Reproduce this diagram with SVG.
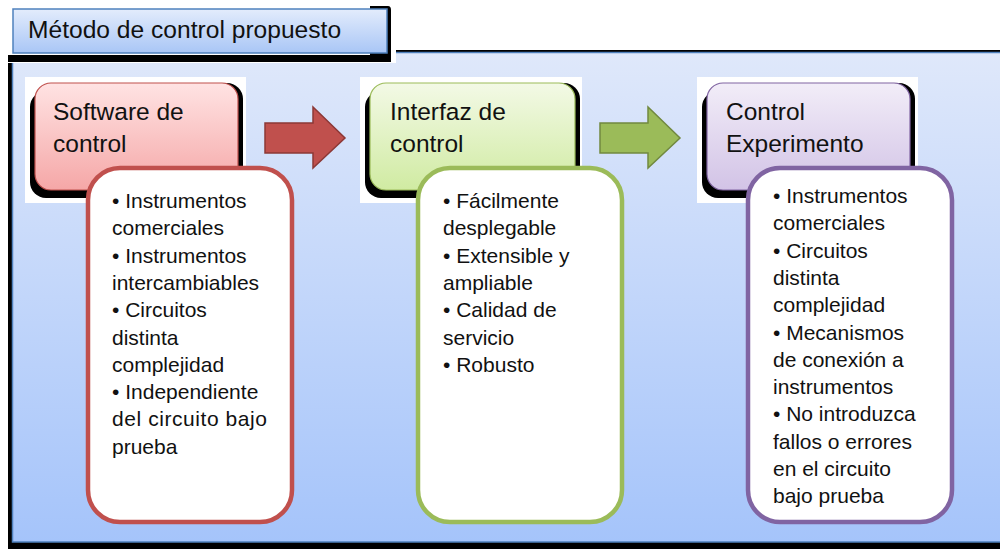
<svg xmlns="http://www.w3.org/2000/svg" width="1000" height="549" viewBox="0 0 1000 549">
<defs>
<linearGradient id="gPanel" x1="0" y1="0" x2="0" y2="1"><stop offset="0" stop-color="#dfe8fa"/><stop offset="1" stop-color="#a5c4fa"/></linearGradient>
<linearGradient id="gTitle" x1="0" y1="0" x2="0" y2="1"><stop offset="0" stop-color="#e3ecfc"/><stop offset="1" stop-color="#a9c6f6"/></linearGradient>
<linearGradient id="gRed" x1="0" y1="0" x2="0" y2="1"><stop offset="0" stop-color="#ffe3e3"/><stop offset="1" stop-color="#f5a7a7"/></linearGradient>
<linearGradient id="gGreen" x1="0" y1="0" x2="0" y2="1"><stop offset="0" stop-color="#f3f9e6"/><stop offset="1" stop-color="#d0eba2"/></linearGradient>
<linearGradient id="gPurple" x1="0" y1="0" x2="0" y2="1"><stop offset="0" stop-color="#f2edf8"/><stop offset="1" stop-color="#d2c3e6"/></linearGradient>
<style>
.hd{font-family:"Liberation Sans",Arial,sans-serif;font-size:24.5px;fill:#111}
.bl{font-family:"Liberation Sans",Arial,sans-serif;font-size:21px;fill:#111}
.ttl{font-family:"Liberation Sans",Arial,sans-serif;font-size:24.6px;fill:#111}
.sh{fill:#000}
.bd{fill:#fff}
.cb{fill:#fff;stroke-width:4.5}
</style>
</defs>
<rect x="0" y="0" width="1000" height="549" fill="#fff"/>
<g id="panel">
<rect x="8" y="50" width="992" height="499" fill="#000"/>
<rect x="12.5" y="52.5" width="990" height="489.5" fill="url(#gPanel)" stroke="#4f81bd" stroke-width="1.5"/>
</g>
<g id="title">
<rect x="0" y="0" width="396" height="63" fill="#fff"/>
<path d="M370,6 H388 Q391,6 391,10 V62 H8 V55 H370 Z" fill="#000"/>
<rect x="13" y="9" width="374" height="44" fill="url(#gTitle)" stroke="#4f81bd" stroke-width="1.5"/>
<text class="ttl" x="28" y="38">Método de control propuesto</text>
</g>
<g id="node-software">
<rect class="bd" x="25" y="77" width="221" height="126"/>
<rect class="sh" x="40" y="83" width="203" height="107" rx="16"/>
<rect class="sh" x="30" y="91" width="203" height="107" rx="16"/>
<rect x="35" y="83" width="203" height="107" rx="16" fill="url(#gRed)" stroke="#c0504d" stroke-width="1.2"/>
<text class="hd" x="53" y="120">Software de<tspan x="53" dy="32">control</tspan></text>
</g>
<g id="node-interfaz">
<rect class="bd" x="360" y="77" width="222" height="126"/>
<rect class="sh" x="375" y="83" width="205" height="107" rx="16"/>
<rect class="sh" x="365" y="91" width="205" height="107" rx="16"/>
<rect x="370" y="83" width="205" height="107" rx="16" fill="url(#gGreen)" stroke="#9bbb59" stroke-width="1.2"/>
<text class="hd" x="390" y="120">Interfaz de<tspan x="390" dy="32">control</tspan></text>
</g>
<g id="node-control">
<rect class="bd" x="697" y="77" width="221" height="126"/>
<rect class="sh" x="712" y="83" width="203" height="107" rx="16"/>
<rect class="sh" x="702" y="91" width="203" height="107" rx="16"/>
<rect x="707" y="83" width="203" height="107" rx="16" fill="url(#gPurple)" stroke="#8064a2" stroke-width="1.2"/>
<text class="hd" x="726" y="120">Control<tspan x="726" dy="32">Experimento</tspan></text>
</g>
<g id="connectors">
<polygon points="265,123 313,123 313,107 345,138 313,168 313,153 265,153" fill="#c0504d" stroke="#8c3836" stroke-width="1.5"/>
<polygon points="600,123 648,123 648,107 680,138 648,168 648,153 600,153" fill="#9bbb59" stroke="#71893f" stroke-width="1.5"/>
</g>
<g id="list-software">
<rect class="cb" x="88" y="168" width="204" height="354" rx="32" stroke="#c0504d"/>
<text class="bl" x="112" y="208">• Instrumentos<tspan x="112" dy="27.3">comerciales</tspan><tspan x="112" dy="27.3">• Instrumentos</tspan><tspan x="112" dy="27.3">intercambiables</tspan><tspan x="112" dy="27.3">• Circuitos</tspan><tspan x="112" dy="27.3">distinta</tspan><tspan x="112" dy="27.3">complejidad</tspan><tspan x="112" dy="27.3">• Independiente</tspan><tspan x="112" dy="27.3" textLength="155" lengthAdjust="spacing">del circuito bajo</tspan><tspan x="112" dy="27.3">prueba</tspan></text>
</g>
<g id="list-interfaz">
<rect class="cb" x="418" y="168" width="204" height="354" rx="32" stroke="#9bbb59"/>
<text class="bl" x="443" y="208">• Fácilmente<tspan x="443" dy="27.3">desplegable</tspan><tspan x="443" dy="27.3">• Extensible y</tspan><tspan x="443" dy="27.3">ampliable</tspan><tspan x="443" dy="27.3">• Calidad de</tspan><tspan x="443" dy="27.3">servicio</tspan><tspan x="443" dy="27.3">• Robusto</tspan></text>
</g>
<g id="list-control">
<rect class="cb" x="748" y="168" width="204" height="354" rx="32" stroke="#8064a2"/>
<text class="bl" x="773" y="203">• Instrumentos<tspan x="773" dy="27.3">comerciales</tspan><tspan x="773" dy="27.3">• Circuitos</tspan><tspan x="773" dy="27.3">distinta</tspan><tspan x="773" dy="27.3">complejidad</tspan><tspan x="773" dy="27.3">• Mecanismos</tspan><tspan x="773" dy="27.3">de conexión a</tspan><tspan x="773" dy="27.3">instrumentos</tspan><tspan x="773" dy="27.3">• No introduzca</tspan><tspan x="773" dy="27.3">fallos o errores</tspan><tspan x="773" dy="27.3">en el circuito</tspan><tspan x="773" dy="27.3">bajo prueba</tspan></text>
</g>
</svg>
